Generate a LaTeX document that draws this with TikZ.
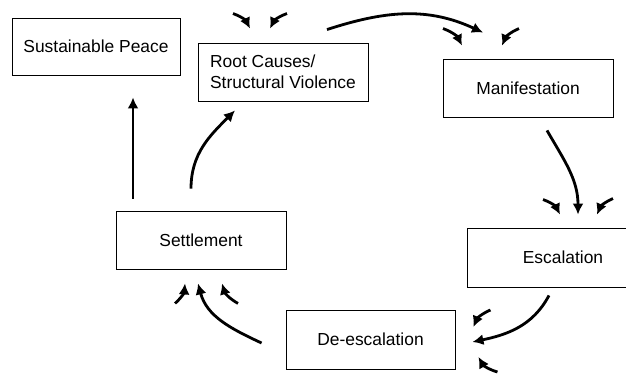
\documentclass[tikz,border=0pt]{standalone}
\usepackage{fontspec}
\setmainfont{Liberation Sans}
\usetikzlibrary{arrows.meta}

\tikzset{
    stage/.style={draw, line width=0.9pt, minimum width=170pt, minimum height=58pt,
        inner sep=0pt, font=\fontsize{17.4}{21}\selectfont},
    flow/.style={line width=2.8pt, -{Latex[length=11pt,width=11pt]}},
    stub/.style={flow, bend angle=22}
}

\begin{document}
\begin{tikzpicture}[x=1pt,y=-1pt]

\clip (0,0) rectangle (626,374);

% ===== Boxes =====
\node[stage, minimum width=168pt, minimum height=57pt] (peace) at (96,46.5) {Sustainable Peace};
\node[stage, align=left] (root) at (283,72) {Root Causes/\\Structural Violence};
\node[stage] (manif) at (528,88) {Manifestation};
\node[stage, minimum width=192pt, minimum height=59pt] (escal) at (563,257.5) {Escalation};
\node[stage, minimum width=169pt, minimum height=59pt] (deesc) at (370.5,339.5) {De-escalation};
\node[stage] (settle) at (201,240) {Settlement};

% ===== Cycle =====
\draw[flow] ([xshift=-68pt,yshift=12pt]settle.north) -- ([xshift=37pt,yshift=-22pt]peace.south);
\draw[flow] ([xshift=-10pt,yshift=22pt]settle.north) to[out=90,in=-135] ([xshift=-48pt,yshift=-9pt]root.south);
\draw[flow] ([xshift=44pt,yshift=13pt]root.north) to[out=18,in=155] ([xshift=-45pt,yshift=26pt]manif.north);
\draw[flow] ([xshift=19pt,yshift=-13pt]manif.south) to[out=-60,in=90] ([xshift=15pt,yshift=13pt]escal.north);
\draw[flow] ([xshift=-14pt,yshift=-8pt]escal.south) to[out=-118,in=12] ([xshift=17pt,yshift=-2.5pt]deesc.east);
\draw[flow] ([xshift=-24pt,yshift=-3.5pt]deesc.west) to[out=155,in=-75] ([xshift=-3pt,yshift=-14pt]settle.south);

% ===== Outside influences =====
% Root causes
\draw[stub] ([xshift=-50pt,yshift=29pt]root.north) to[bend left] ([xshift=-33pt,yshift=14pt]root.north);
\draw[stub] ([xshift=4pt,yshift=29pt]root.north) to[bend right] ([xshift=-13pt,yshift=14pt]root.north);

% Manifestation
\draw[stub] ([xshift=-85pt,yshift=30pt]manif.north) to[bend left] ([xshift=-66pt,yshift=13pt]manif.north);
\draw[stub] ([xshift=-9pt,yshift=30pt]manif.north) to[bend right] ([xshift=-26pt,yshift=13pt]manif.north);

% Escalation
\draw[stub] ([xshift=-20pt,yshift=28pt]escal.north) to[bend left] ([xshift=-3pt,yshift=13pt]escal.north);
\draw[stub] ([xshift=50pt,yshift=29pt]escal.north) to[bend right] ([xshift=34pt,yshift=13pt]escal.north);

% De-escalation
\draw[stub] ([xshift=35pt,yshift=29.5pt]deesc.east) to[bend right] ([xshift=18pt,yshift=12.5pt]deesc.east);
\draw[stub] ([xshift=42pt,yshift=-32.5pt]deesc.east) to[bend left] ([xshift=23pt,yshift=-17.5pt]deesc.east);

% Settlement
\draw[stub] ([xshift=-26pt,yshift=-34pt]settle.south) to[bend right] ([xshift=-16pt,yshift=-14pt]settle.south);
\draw[stub] ([xshift=37pt,yshift=-34pt]settle.south) to[bend left] ([xshift=21pt,yshift=-14pt]settle.south);

\end{tikzpicture}
\end{document}
